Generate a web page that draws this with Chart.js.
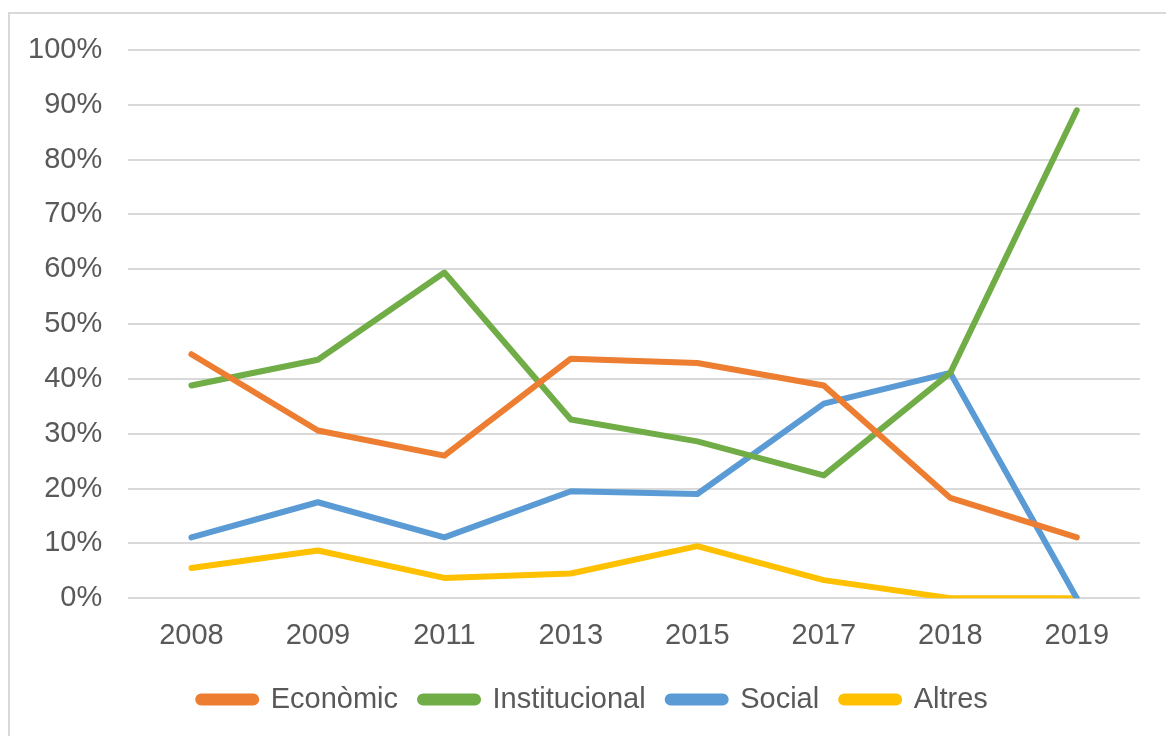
<!DOCTYPE html>
<html>
<head>
<meta charset="utf-8">
<script src="https://cdn.jsdelivr.net/npm/chart.js@4"></script>
<style>
  html, body { margin: 0; padding: 0; background: #fff; }
  #frame { position: absolute; left: 8px; top: 12px; width: 1200px; height: 800px;
           border-top: 2px solid #d9d9d9; border-left: 2px solid #d9d9d9; }
  #wrap { position: absolute; left: 0; top: 0; width: 1166px; height: 736px; }
</style>
</head>
<body>
<div id="frame"></div>
<div id="wrap"><canvas id="c" width="1166" height="736"></canvas></div>
<script>
const categories = ['2008', '2009', '2011', '2013', '2015', '2017', '2018', '2019'];
const economic = [44.5, 30.6, 26.0, 43.7, 42.9, 38.8, 18.3, 11.1];
const institutional = [38.8, 43.5, 59.4, 32.6, 28.6, 22.4, 41.1, 89.0];
const social = [11.1, 17.5, 11.1, 19.5, 19.0, 35.5, 41.1, 0];
const others = [5.5, 8.7, 3.7, 4.5, 9.5, 3.3, 0, 0];
const seriesNames = ['Econòmic', 'Institucional', 'Social', 'Altres'];
const yTicks = [0, 10, 20, 30, 40, 50, 60, 70, 80, 90, 100];

const colors = ['#ED7D31', '#70AD47', '#5B9BD5', '#FFC000'];
const seriesData = [economic, institutional, social, others];
const FONT = { family: 'Liberation Sans, Arial, sans-serif', size: 29 };

const shiftLegend = {
  id: 'shiftLegend',
  afterLayout(chart) {
    if (chart.legend) { chart.legend.left += 22; chart.legend.right += 22; }
  }
};

new Chart(document.getElementById('c'), {
  type: 'line',
  data: {
    labels: categories,
    datasets: seriesNames.map((name, i) => ({
      label: name,
      data: seriesData[i],
      borderColor: colors[i],
      backgroundColor: colors[i],
      borderWidth: 6,
      pointRadius: 0,
      tension: 0,
      borderCapStyle: 'round',
      borderJoinStyle: 'round'
    }))
  },
  plugins: [shiftLegend],
  options: {
    responsive: false,
    animation: false,
    layout: { padding: { left: 2, right: 26, top: 50, bottom: 12 } },
    plugins: {
      legend: {
        position: 'bottom',
        labels: {
          color: '#595959',
          font: FONT,
          boxWidth: 58,
          boxHeight: 6,
          useBorderRadius: true,
          borderRadius: 3,
          padding: 22
        }
      },
      tooltip: { enabled: false }
    },
    scales: {
      x: {
        offset: true,
        grid: { display: false, drawTicks: false },
        border: { display: false },
        afterFit: (a) => { a.height -= 10; },
        ticks: {
          color: '#595959',
          font: FONT,
          padding: 20,
          maxRotation: 0
        }
      },
      y: {
        min: 0,
        max: 100,
        afterBuildTicks: (axis) => { axis.ticks = yTicks.map(v => ({ value: v })); },
        grid: { color: '#d9d9d9', lineWidth: 2, drawTicks: false },
        border: { display: false },
        ticks: {
          color: '#595959',
          font: FONT,
          padding: 26,
          callback: (v) => v + '%'
        }
      }
    }
  }
});
</script>
</body>
</html>
